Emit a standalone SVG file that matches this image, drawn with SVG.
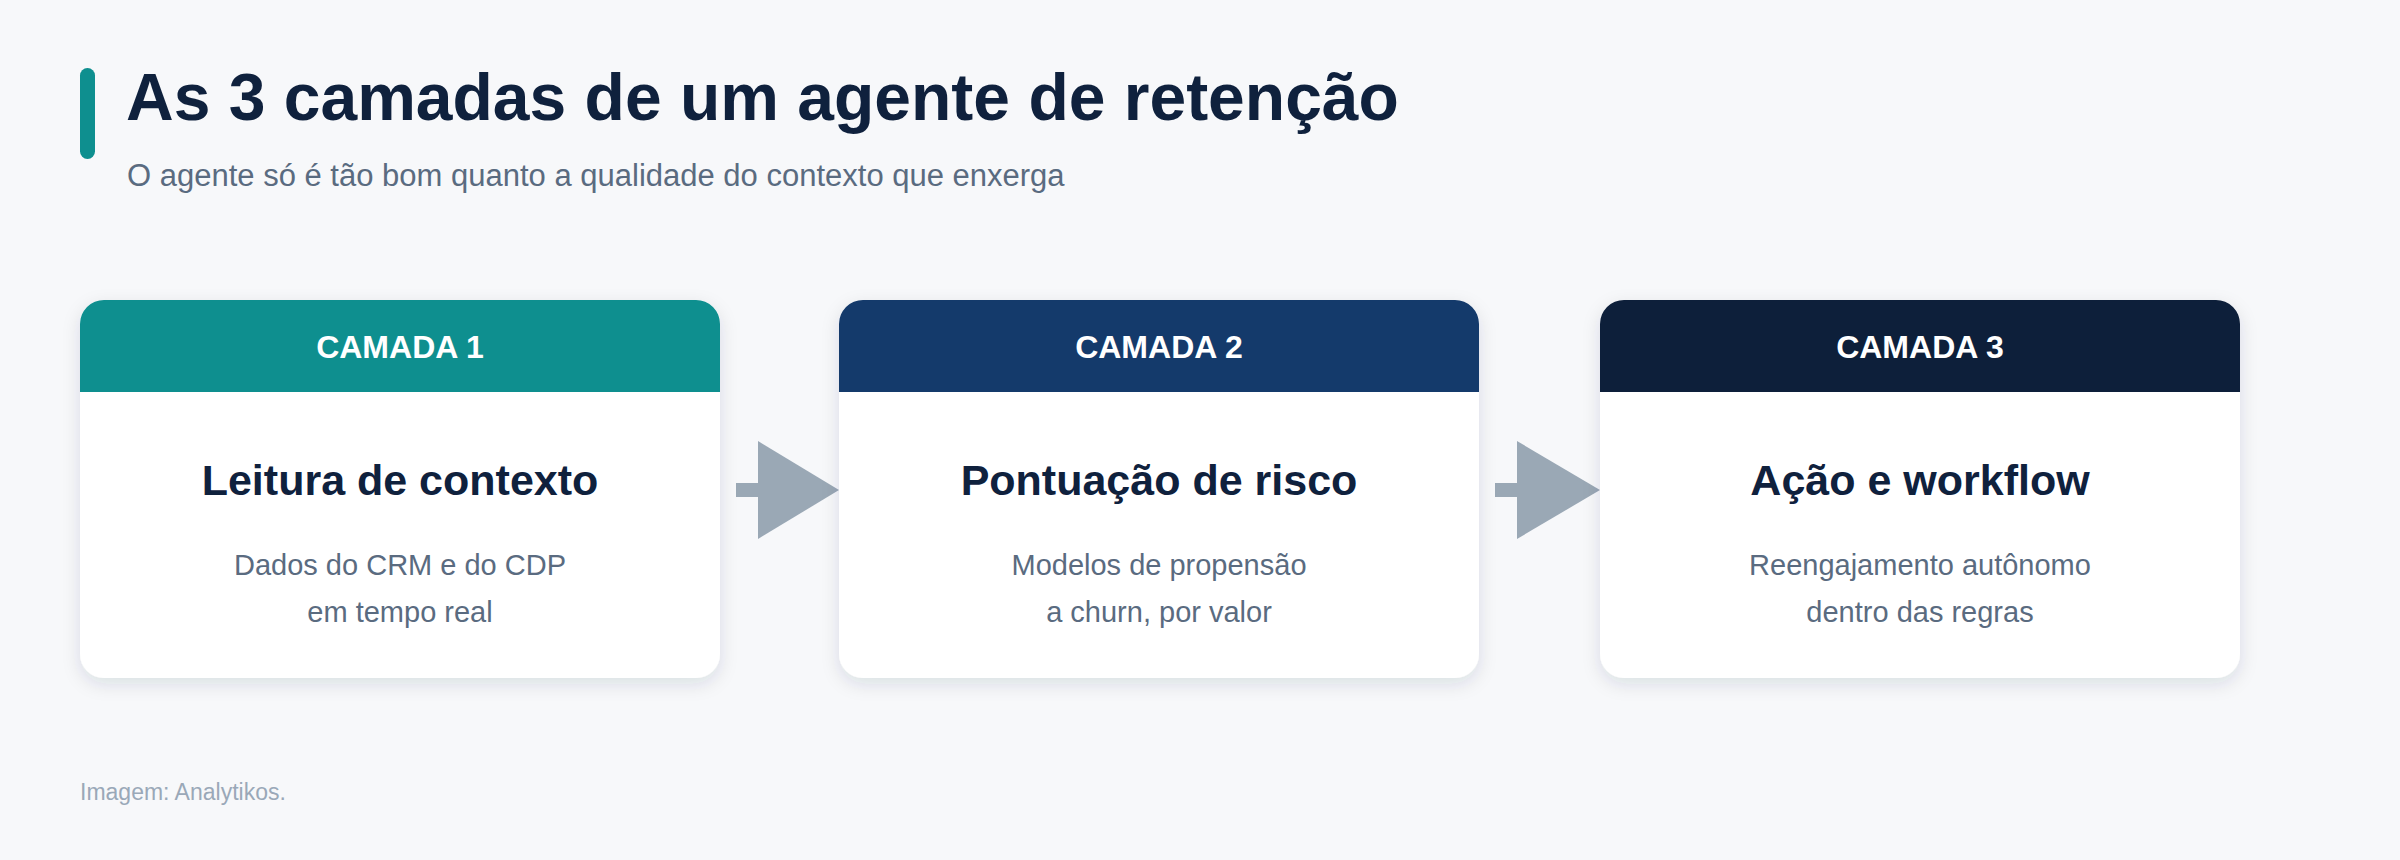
<svg xmlns="http://www.w3.org/2000/svg" width="2400" height="860" viewBox="0 0 2400 860">
<style>
text{font-family:"Liberation Sans",Arial,sans-serif}
.hd{fill:#fff;font-weight:bold;font-size:32px;text-anchor:middle}
.tt{fill:#0F213D;font-weight:bold;font-size:43px;text-anchor:middle}
.ds{fill:#5A6B80;font-size:29px;text-anchor:middle}
.card{fill:#fff;filter:url(#sh)}
.arr{fill:#9AA8B5}
</style>
<defs>
<filter id="sh" x="-10%" y="-10%" width="120%" height="130%"><feDropShadow dx="0" dy="6" stdDeviation="9" flood-color="#1a2a4a" flood-opacity="0.12"/></filter>
</defs>
<rect width="2400" height="860" fill="#F7F8FA"/>
<rect x="80" y="68" width="15" height="91" rx="7.5" fill="#0E8F8F"/>
<text x="126" y="120" font-size="66" font-weight="bold" fill="#0F213D">As 3 camadas de um agente de retenção</text>
<text x="127" y="186" font-size="31" fill="#5A6B80">O agente só é tão bom quanto a qualidade do contexto que enxerga</text>
<g id="connectors">
<rect class="arr" x="736" y="483" width="26" height="14"/>
<polygon class="arr" points="758,441 839,490 758,539"/>
<rect class="arr" x="1495" y="483" width="26" height="14"/>
<polygon class="arr" points="1517,441 1600,490 1517,539"/>
</g>
<g id="camada1">
<rect class="card" x="80" y="300" width="640" height="378" rx="24"/>
<path d="M80,392V324a24,24 0 0 1 24-24H696a24,24 0 0 1 24,24V392Z" fill="#0E8F8F"/>
<text class="hd" x="400" y="358">CAMADA 1</text>
<text class="tt" x="400" y="495">Leitura de contexto</text>
<text class="ds" x="400" y="575">Dados do CRM e do CDP</text>
<text class="ds" x="400" y="622">em tempo real</text>
</g>
<g id="camada2">
<rect class="card" x="839" y="300" width="640" height="378" rx="24"/>
<path d="M839,392V324a24,24 0 0 1 24-24H1455a24,24 0 0 1 24,24V392Z" fill="#143A6B"/>
<text class="hd" x="1159" y="358">CAMADA 2</text>
<text class="tt" x="1159" y="495">Pontuação de risco</text>
<text class="ds" x="1159" y="575">Modelos de propensão</text>
<text class="ds" x="1159" y="622">a churn, por valor</text>
</g>
<g id="camada3">
<rect class="card" x="1600" y="300" width="640" height="378" rx="24"/>
<path d="M1600,392V324a24,24 0 0 1 24-24H2216a24,24 0 0 1 24,24V392Z" fill="#0D1F3A"/>
<text class="hd" x="1920" y="358">CAMADA 3</text>
<text class="tt" x="1920" y="495">Ação e workflow</text>
<text class="ds" x="1920" y="575">Reengajamento autônomo</text>
<text class="ds" x="1920" y="622">dentro das regras</text>
</g>
<text x="80" y="800" font-size="23" fill="#9AA8B8">Imagem: Analytikos.</text>
</svg>
